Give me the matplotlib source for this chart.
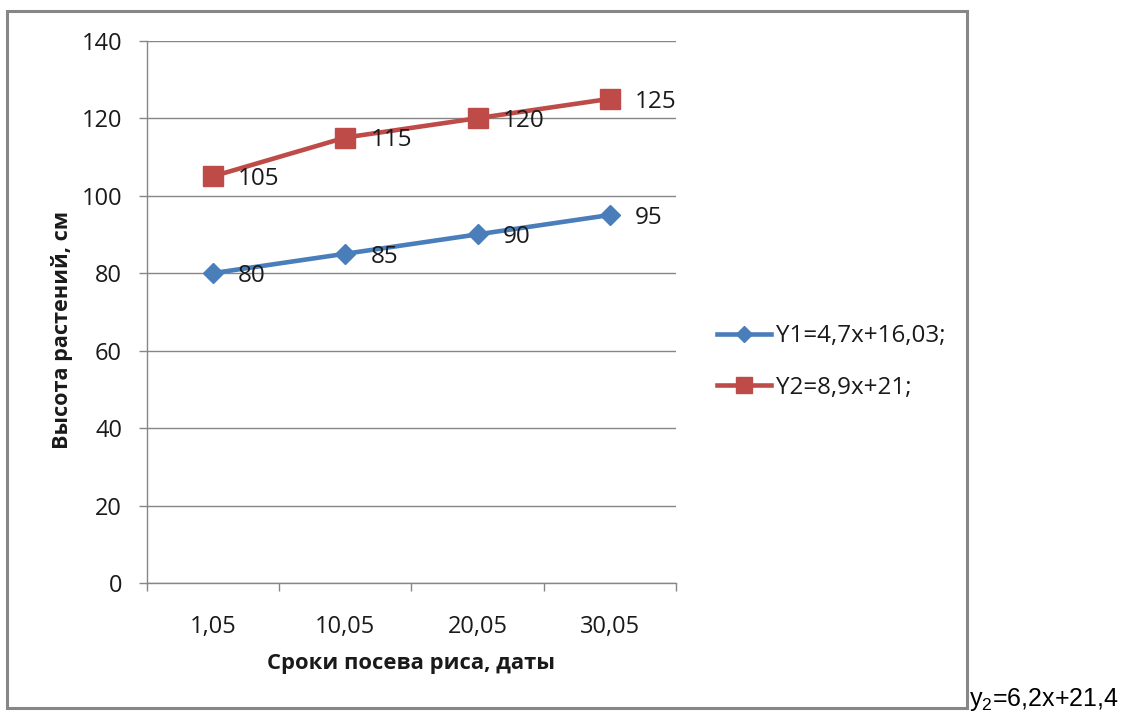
import matplotlib
matplotlib.use("Agg")
import matplotlib.pyplot as plt
from matplotlib.patches import Rectangle

plt.rcParams['font.family'] = ['Open Sans', 'DejaVu Sans']

# data
dates = ['1,05', '10,05', '20,05', '30,05']
y1 = [80, 85, 90, 95]
y2 = [105, 115, 120, 125]
y1_name = 'Y1=4,7x+16,03;'
y2_name = 'Y2=8,9x+21;'
yticks = [0, 20, 40, 60, 80, 100, 120, 140]

blue = '#4A7EBB'
red = '#BE4B48'
gray = '#868686'
txt = '#1a1a1a'

W, H = 1130, 715
fig = plt.figure(figsize=(W / 100, H / 100), dpi=100)
ax = fig.add_axes([147 / W, 1 - 583 / H, 529 / W, (583 - 40.7) / H])

x = range(len(dates))
ax.plot(x, y1, color=blue, lw=3.3, marker='D', ms=10.5, label=y1_name, zorder=3)
ax.plot(x, y2, color=red, lw=3.3, marker='s', ms=14.5, label=y2_name, zorder=3)

for i, v in enumerate(y1):
    ax.annotate(str(v), (i, v), xytext=(18, -2), textcoords='offset points',
                va='center', ha='left', fontsize=17.5, color=txt)
for i, v in enumerate(y2):
    ax.annotate(str(v), (i, v), xytext=(18, -2), textcoords='offset points',
                va='center', ha='left', fontsize=17.5, color=txt)

ax.set_xlim(-0.5, len(dates) - 0.5)
ax.set_ylim(0, 140)
ax.set_yticks(yticks)
ax.set_xticks(list(x))
ax.set_xticklabels(dates)
ax.set_xticks([i - 0.5 for i in range(len(dates) + 1)], minor=True)

ax.tick_params(axis='x', which='major', length=0, pad=23, labelsize=17, labelcolor=txt)
ax.tick_params(axis='x', which='minor', length=6, direction='out', color=gray, width=1)
ax.tick_params(axis='y', length=6, direction='out', color=gray, width=1,
               pad=12, labelsize=17, labelcolor=txt)

ax.yaxis.grid(True, color=gray, lw=1)
ax.set_axisbelow(True)
for s in ['top', 'right']:
    ax.spines[s].set_visible(False)
for s in ['left', 'bottom']:
    ax.spines[s].set_color(gray)
    ax.spines[s].set_linewidth(1)

ax.set_ylabel('Высота растений, см', fontsize=15.6, fontweight='bold', color=txt, va='center')
ax.yaxis.set_label_coords((62 - 147) / 529, (583 - 330) / 542.3)
ax.set_xlabel('Сроки посева риса, даты', fontsize=15.8, fontweight='bold', color=txt, va='center')
ax.xaxis.set_label_coords(0.5, (583 - 664) / 542.3)

fig.legend(loc='center left', bbox_to_anchor=(717 / W, 1 - 362 / H), frameon=False,
           fontsize=17.4, borderaxespad=0, borderpad=0, handlelength=2.25,
           handletextpad=0.2, labelspacing=1.15, markerscale=0.75, labelcolor=txt)

fig.patches.append(Rectangle((7 / W, 1 - 708 / H), 960 / W, 697 / H, transform=fig.transFigure,
                             fill=False, ec='#878787', lw=2.2))

fig.text(969 / W, 1 - 706 / H, r'y$_\mathregular{2}$=6,2x+21,4', ha='left', va='baseline',
         family='Liberation Sans', fontsize=18, color='black')

fig.savefig('out.png', dpi=100)
